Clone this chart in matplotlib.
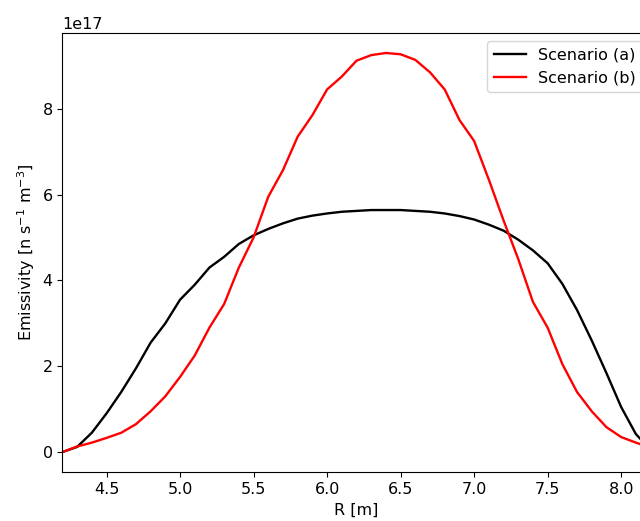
import matplotlib
matplotlib.use('Agg')
import matplotlib.pyplot as plt, numpy as np

# radius grid [m]
R = [4.2, 4.3, 4.4, 4.5, 4.6, 4.7, 4.8, 4.9, 5.0, 5.1, 5.2, 5.3, 5.4, 5.5,
     5.6, 5.7, 5.8, 5.9, 6.0, 6.1, 6.2, 6.3, 6.4, 6.5, 6.6, 6.7, 6.8, 6.9,
     7.0, 7.1, 7.2, 7.3, 7.4, 7.5, 7.6, 7.7, 7.8, 7.9, 8.0, 8.1, 8.2]

# emissivity in units of 1e17 n s^-1 m^-3
scen_a = [0.00, 0.12, 0.45, 0.90, 1.40, 1.95, 2.55, 3.00, 3.55, 3.90, 4.30,
          4.55, 4.85, 5.05, 5.20, 5.33, 5.44, 5.51, 5.56, 5.60, 5.62, 5.64,
          5.64, 5.64, 5.62, 5.60, 5.56, 5.50, 5.42, 5.30, 5.16, 4.95, 4.70,
          4.40, 3.92, 3.31, 2.60, 1.84, 1.05, 0.42, 0.05]
scen_b = [0.00, 0.13, 0.22, 0.33, 0.45, 0.65, 0.95, 1.30, 1.75, 2.25, 2.90,
          3.45, 4.30, 5.00, 5.95, 6.57, 7.35, 7.85, 8.45, 8.75, 9.12, 9.25,
          9.30, 9.27, 9.14, 8.85, 8.45, 7.74, 7.25, 6.35, 5.40, 4.50, 3.50,
          2.90, 2.05, 1.40, 0.95, 0.58, 0.35, 0.22, 0.10]

labels = ['Scenario (a)', 'Scenario (b)']

if __name__ == "__main__":
    plt.rcParams['font.size'] = 11.5
    R = np.array(R)
    fig = plt.figure(figsize=(6.4, 5.21), dpi=100)
    # axes run past the right edge of the picture, like the cropped original
    ax = fig.add_axes([0.0975, 0.094, 0.919, 0.8426])
    ax.plot(R, np.array(scen_a) * 1e17, color='black', lw=1.7, label=labels[0])
    ax.plot(R, np.array(scen_b) * 1e17, color='red', lw=1.7, label=labels[1])
    ax.set_xlim(R[0], R[-1])
    ax.set_xlabel('R [m]')
    ax.set_ylabel('Emissivity [n s$^{-1}$ m$^{-3}$]')
    ax.legend(loc='upper right')
    fig.savefig('out.png', dpi=100)
